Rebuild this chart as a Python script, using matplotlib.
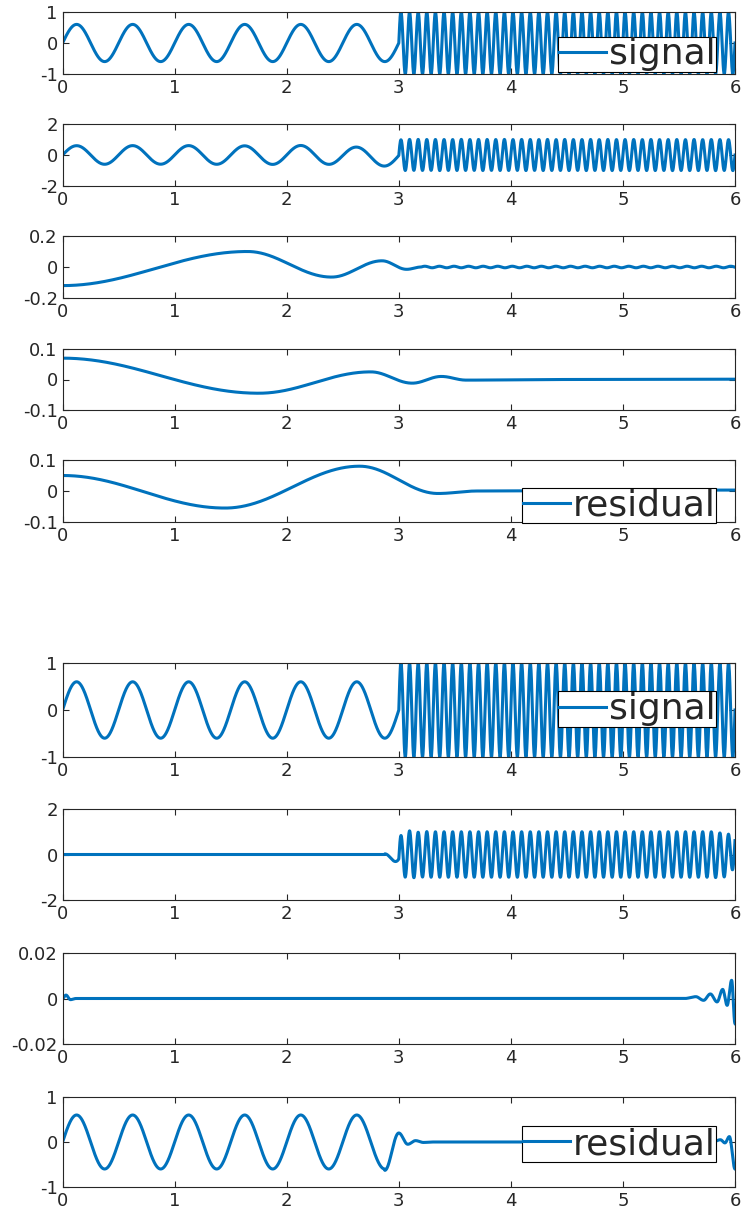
import numpy as np
import matplotlib
matplotlib.use("Agg")
import matplotlib.pyplot as plt

# --- signal parameters ---
SWITCH_T = 3.0          # s, where the tone changes
LF_FREQ = 2.0           # Hz, first half
LF_AMP = 0.6
HF_FREQ = 13.0          # Hz, second half
HF_AMP = 1.0

# top decomposition: key points (time, value) of the slow components
top_imf2_t = [0.0, 1.65, 2.4, 2.85, 3.07, 3.2]
top_imf2_v = [-0.12, 0.10, -0.065, 0.04, -0.015, 0.0]
top_imf2_ripple = (0.005, 0.13)      # amplitude, period after 3.2 s
top_imf3_t = [0.0, 1.75, 2.75, 3.12, 3.38, 3.6, 4.5, 6.0]
top_imf3_v = [0.07, -0.045, 0.025, -0.012, 0.01, -0.002, 0.0, 0.001]
top_res_t = [0.0, 1.45, 2.65, 3.35, 3.7, 6.0]
top_res_v = [0.05, -0.055, 0.08, -0.008, 0.0, 0.003]

# bottom decomposition
bot_imf2_t = [0.0, 0.03, 0.07, 0.12, 5.55, 5.65, 5.72, 5.78, 5.84, 5.89, 5.93, 5.97, 6.0]
bot_imf2_v = [0.0, 0.0015, -0.0005, 0.0, 0.0, 0.0008, -0.0008, 0.002, -0.0015, 0.004, -0.003, 0.008, -0.011]
bot_res_t = [2.875, 3.0, 3.08, 3.15, 3.22, 3.3, 5.8, 5.87, 5.91, 5.95, 6.0]
bot_res_v = [-0.63, 0.2, -0.05, 0.03, -0.01, 0.0, 0.0, 0.05, -0.02, 0.12, -0.6]

labels_top = ["signal", None, None, None, "residual"]
labels_bot = ["signal", None, None, "residual"]
ylims_top = [1, 2, 0.2, 0.1, 0.1]
ylims_bot = [1, 2, 0.02, 1]
ytick_fmt = {1: ["-1", "0", "1"], 2: ["-2", "0", "2"], 0.2: ["-0.2", "0", "0.2"],
             0.1: ["-0.1", "0", "0.1"], 0.02: ["-0.02", "0", "0.02"]}


def through(t, kt, kv):
    # half-cosine segments between read-off extrema
    out = np.zeros_like(t)
    for i in range(len(kt) - 1):
        m = (t >= kt[i]) & (t <= kt[i + 1])
        s = (t[m] - kt[i]) / (kt[i + 1] - kt[i])
        out[m] = kv[i] + (kv[i + 1] - kv[i]) * (1 - np.cos(np.pi * s)) / 2
    return out


t = np.linspace(0, 6, 3001)
signal = np.where(t < SWITCH_T,
                  LF_AMP * np.sin(2 * np.pi * LF_FREQ * t),
                  HF_AMP * np.sin(2 * np.pi * HF_FREQ * (t - SWITCH_T)))

imf2 = through(t, top_imf2_t, top_imf2_v)
amp, per = top_imf2_ripple
imf2 += np.where(t > 3.2, amp * np.sin(2 * np.pi * (t - 3.2) / per), 0)
imf3 = through(t, top_imf3_t, top_imf3_v)
res = through(t, top_res_t, top_res_v)
imf1 = signal - imf2 - imf3 - res
top = [signal, imf1, imf2, imf3, res]

b_imf2 = through(t, bot_imf2_t, bot_imf2_v)
b_res = np.where(t <= bot_res_t[0], LF_AMP * np.sin(2 * np.pi * LF_FREQ * t),
                 through(t, bot_res_t, bot_res_v))
b_imf1 = signal - b_imf2 - b_res
bot = [signal, b_imf1, b_imf2, b_res]

# axes layout in pixels (top, bottom) of the 744x1222 figure
W, H = 744, 1222
x0, x1 = 62.6, 735
rows = [(12, 74), (124, 186), (236, 298), (349, 410), (460, 522),
        (663, 757), (809, 900), (953, 1044), (1097, 1187)]
leg_y = {0: 0.03, 4: -0.02, 5: 0.32, 8: 0.28}

plt.rcParams["font.family"] = ["DejaVu Sans"]
fig = plt.figure(figsize=(W / 100, H / 100), dpi=100)
blue = "#0072BD"
edge = "#262626"

series = top + bot
labels = labels_top + labels_bot
ylims = ylims_top + ylims_bot
for k, (yt, yb) in enumerate(rows):
    ax = fig.add_axes([x0 / W, 1 - yb / H, (x1 - x0) / W, (yb - yt) / H])
    ax.plot(t, series[k], color=blue, lw=2.2, label=labels[k])
    lim = ylims[k]
    ax.set_xlim(0, 6)
    ax.set_ylim(-lim, lim)
    ax.set_xticks(range(7))
    ax.set_yticks([-lim, 0, lim])
    ax.set_yticklabels(ytick_fmt[lim])
    ax.tick_params(direction="in", top=True, right=True, length=4,
                   labelsize=13, colors=edge, labelcolor=edge, width=0.8)
    for sp in ax.spines.values():
        sp.set_color(edge)
        sp.set_linewidth(0.8)
    if labels[k]:
        leg = ax.legend(loc="lower right", bbox_to_anchor=(0.972, leg_y[k]),
                        fontsize=26, frameon=True, fancybox=False,
                        framealpha=1, borderpad=0.02, handlelength=1.3,
                        handletextpad=0.08, borderaxespad=0)
        leg.get_frame().set_edgecolor("black")
        leg.get_frame().set_linewidth(0.8)
        for txt in leg.get_texts():
            txt.set_color(edge)

fig.savefig("out.png", dpi=100)
